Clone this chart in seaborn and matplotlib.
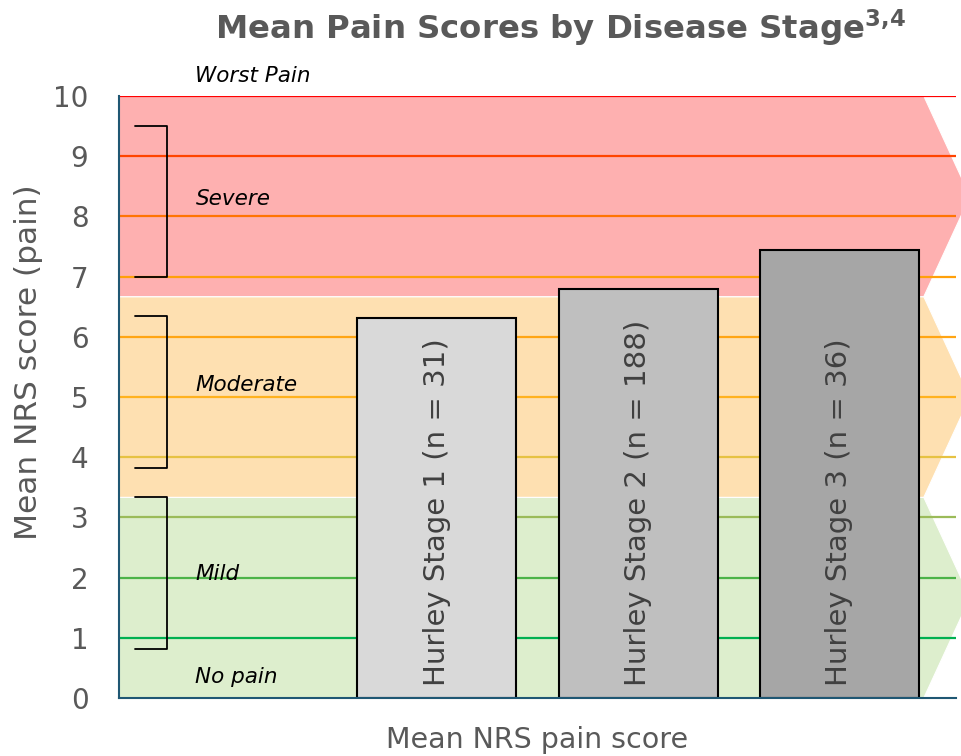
import numpy as np
import pandas as pd
import matplotlib
matplotlib.use("Agg")
import matplotlib.pyplot as plt
from matplotlib.patches import Polygon
import seaborn as sns

# chart data
stages = ["Hurley Stage 1 (n = 31)", "Hurley Stage 2 (n = 188)", "Hurley Stage 3 (n = 36)"]
mean_nrs = [6.31, 6.79, 7.44]
bar_colors = ["#d9d9d9", "#bfbfbf", "#a6a6a6"]

grid_levels = [1, 2, 3, 4, 5, 6, 7, 8, 9, 10]
grid_colors = ["#00b050", "#4cb348", "#9bbb59", "#e6c243", "#ffb21f",
               "#ffa514", "#ffa00a", "#ff7404", "#ff4400", "#ff0000"]

# pain bands: (low, high, colour)
bands = [(0, 10 / 3, "#ddeecd"), (10 / 3, 20 / 3, "#fee0b1"), (20 / 3, 10, "#feb0b0")]

zone_names = ["Worst Pain", "Severe", "Moderate", "Mild", "No pain"]
zone_y = [10.33, 8.29, 5.2, 2.06, 0.35]
brackets = [(9.5, 7.0), (6.35, 3.82), (3.34, 0.81)]

sns.set_theme(style="white")
plt.rcParams["font.family"] = ["DejaVu Sans"]
plt.rcParams["mathtext.fontset"] = "dejavusans"

fig = plt.figure(figsize=(9.61, 7.56), dpi=100)
ax = fig.add_axes([0.1238, 0.0767, 0.8710, 0.7963])

x_left, x_right = -1.58, 2.58
x_shoulder, x_tip = 2.42, 2.65

# chevron shaped background bands
for lo, hi, col in bands:
    mid = (lo + hi) / 2
    pts = [(x_left, lo), (x_shoulder, lo), (x_tip, mid), (x_shoulder, hi), (x_left, hi)]
    ax.add_patch(Polygon(pts, closed=True, facecolor=col, edgecolor="white",
                         linewidth=0.8, zorder=0.5, clip_on=False))

for lvl, col in zip(grid_levels, grid_colors):
    ax.axhline(lvl, color=col, linewidth=1.6, zorder=1)

df = pd.DataFrame({"stage": stages, "score": mean_nrs})
sns.barplot(data=df, x="stage", y="score", hue="stage", palette=bar_colors,
            legend=False, width=0.79, edgecolor="black", linewidth=1.5,
            saturation=1, ax=ax, zorder=2)

for i, name in enumerate(stages):
    ax.text(i, 0.2, name, rotation=90, ha="center", va="bottom",
            fontsize=21, color="#404040", zorder=3)

for name, yv in zip(zone_names, zone_y):
    ax.text(-1.2, yv, name, style="italic", fontsize=15.5, color="black",
            va="center", ha="left", zorder=3, clip_on=False)

for top, bot in brackets:
    ax.plot([-1.50, -1.34, -1.34, -1.50], [top, top, bot, bot],
            color="black", linewidth=1.3, zorder=3)

ax.set_xlim(x_left, x_right)
ax.set_ylim(0, 10)
ax.set_yticks(range(0, 11))
ax.set_xticks([])
ax.tick_params(axis="y", labelsize=20, colors="#595959", pad=22, length=0)
ax.set_ylabel("Mean NRS score (pain)", fontsize=22.5, color="#595959")
ax.yaxis.set_label_coords(-0.091, 0.558)
ax.set_xlabel("Mean NRS pain score", fontsize=20.5, color="#595959", labelpad=20)

for side in ["top", "right"]:
    ax.spines[side].set_visible(False)
for side in ["left", "bottom"]:
    ax.spines[side].set_color("#1f5773")
    ax.spines[side].set_linewidth(1.5)
    ax.spines[side].set_zorder(4)

fig.text(0.583, 0.963, r"Mean Pain Scores by Disease Stage$^{\mathbf{3{,}4}}$",
         ha="center", va="center", fontsize=23.3, fontweight="bold", color="#595959")

fig.savefig("out.png", dpi=100)
